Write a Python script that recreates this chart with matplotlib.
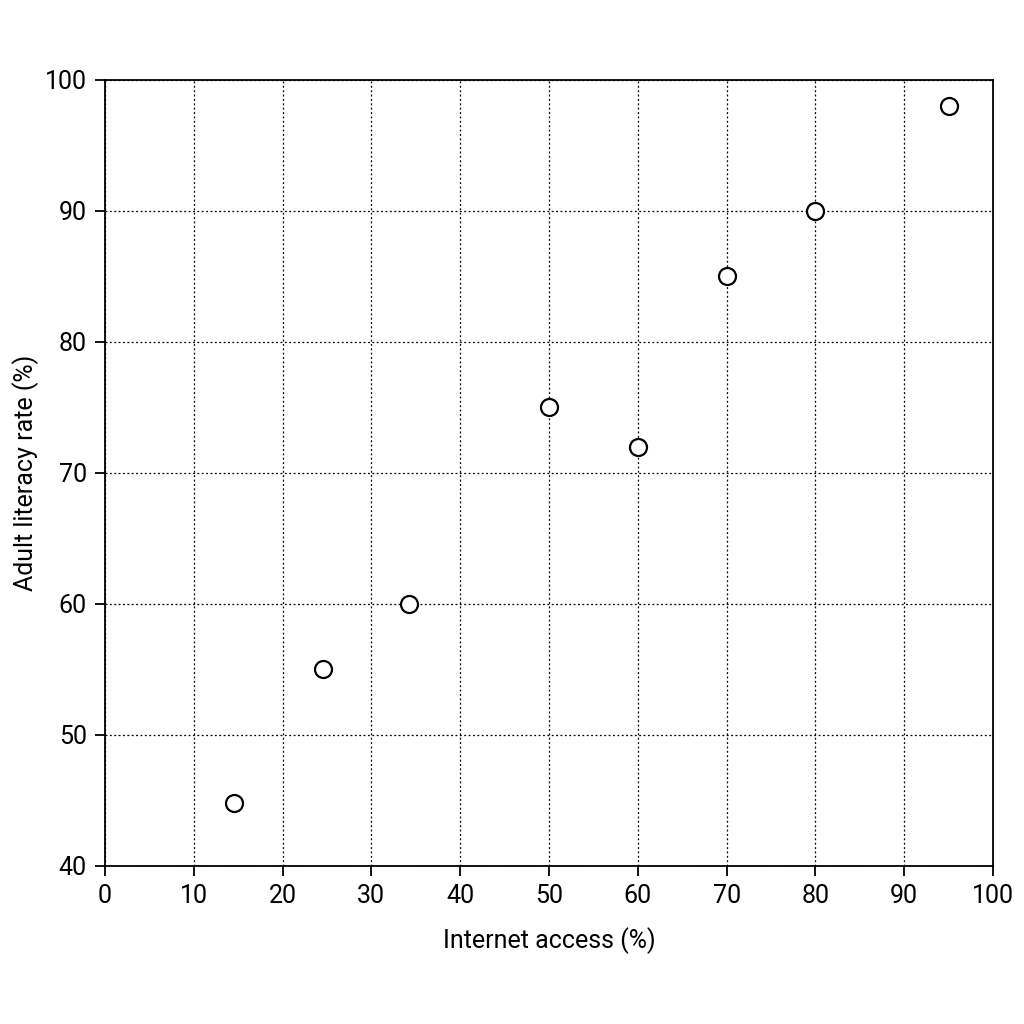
import matplotlib
matplotlib.use("Agg")
import matplotlib.pyplot as plt

internet_access = [14.5, 24.5, 34.2, 50, 60, 70, 80, 95]
literacy_rate = [44.8, 55, 60, 75, 72, 85, 90, 98]
x_ticks = [0, 10, 20, 30, 40, 50, 60, 70, 80, 90, 100]
y_ticks = [40, 50, 60, 70, 80, 90, 100]

plt.rcParams['font.family'] = ['Roboto', 'DejaVu Sans']
fig = plt.figure(figsize=(10.24, 10.24), dpi=100)
ax = fig.add_axes([0.1025, 0.1543, 0.8672, 0.7676])
ax.scatter(internet_access, literacy_rate, s=150, facecolors='white',
           edgecolors='black', linewidths=1.6, zorder=3)
ax.set_xlim(0, 100)
ax.set_ylim(40, 100)
ax.set_xticks(x_ticks)
ax.set_yticks(y_ticks)
ax.grid(True, linestyle=(0, (1.5, 2)), color='black', linewidth=0.9)
ax.tick_params(direction='out', length=7, width=1.3, labelsize=18, pad=6)
for s in ax.spines.values():
    s.set_linewidth(1.3)
ax.set_xlabel('Internet access (%)', fontsize=18, labelpad=14)
ax.set_ylabel('Adult literacy rate (%)', fontsize=18, labelpad=4)
fig.savefig('out.png', dpi=100, facecolor='white')
